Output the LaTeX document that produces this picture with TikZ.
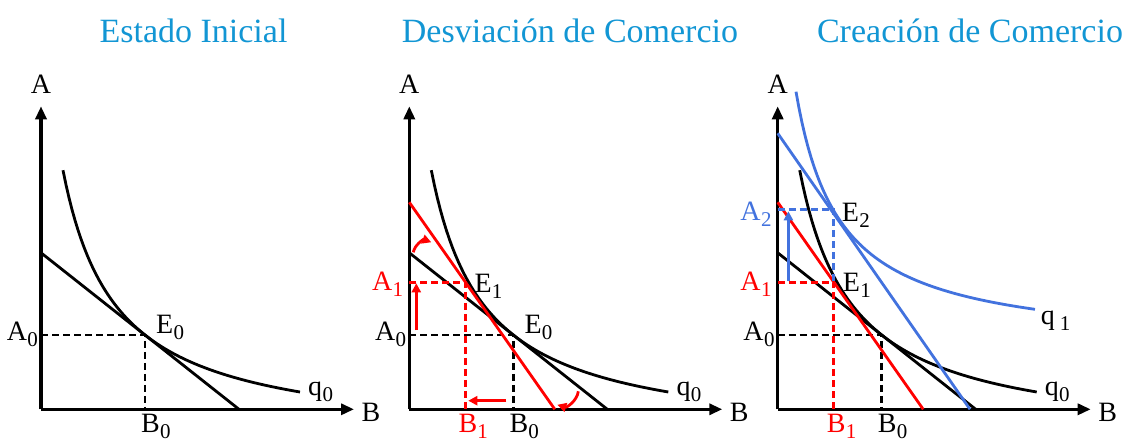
\documentclass[tikz,border=0pt]{standalone}
\usepackage{fontspec}
\setmainfont{Liberation Serif}
\usepackage{xcolor}
\usetikzlibrary{arrows.meta,positioning,calc}
\definecolor{titleblue}{RGB}{18,150,212}
\definecolor{shiftred}{RGB}{255,0,0}
\definecolor{growblue}{RGB}{66,114,222}
\newcommand{\labsub}[2]{#1\kern0.3pt\raisebox{-6.5pt}{\fontsize{21}{21}\selectfont #2}}

\begin{document}
\begin{tikzpicture}[x=1pt, y=1pt,
  font=\fontsize{28}{28}\selectfont,
  ax/.style={line width=3.2pt, -{Triangle[length=13pt,width=11pt]}},
  ln/.style={line width=2.8pt},
  dsh/.style={line width=2.8pt, dash pattern=on 7pt off 4pt},
  ar/.style={line width=2.8pt, -{Triangle[length=9pt,width=9pt]}},
  ttl/.style={font=\fontsize{34}{34}\selectfont, text=titleblue, anchor=base},
  lab/.style={inner sep=0pt}
]
\useasboundingbox (0,0) rectangle (1132,443);

% titles
\node[ttl] (t1) at (193.5,400) {Estado Inicial};
\node[ttl] (t2) at (570,400) {Desviación de Comercio};
\node[ttl] (t3) at (970,400) {Creación de Comercio};

% axes, q0, first budget line and E0 in every panel
\foreach \sx/\k in {41/1,409.3/2,777.7/3}{
  \begin{scope}[shift={(\sx,33.7)}]
    \coordinate (o\k) at (0,0);
    \coordinate (ytop\k) at (0,303);
    \coordinate (xend\k) at (313,0);
    \coordinate (bA\k) at (0,156.5);
    \coordinate (bB\k) at (198,0);
    \coordinate (E0\k) at (104,74.3);
    \draw[ax] (o\k) -- (ytop\k);
    \draw[ax] (o\k) -- (xend\k);
    \draw[ln] (bA\k) -- (bB\k);
    \draw[ln] plot[domain=22:259, samples=80] (\x,{14415/(\x+31.1)-32.4});
    \draw[dsh] (E0\k -| o\k) -- (E0\k) -- (E0\k |- o\k);
    \node[lab] (ya\k) at (0,325) {A};
    \node[lab] (xb\k) at (330,-3) {B};
    \node[lab, anchor=base east] (A0\k) at (-3,69) {\labsub{A}{0}};
    \node[lab, anchor=base west] (B0\k) at (100,-23) {\labsub{B}{0}};
    \node[lab, anchor=base west] (q0\k) at (267,14) {\labsub{q}{0}};
  \end{scope}
}

% E0 label (first two panels)
\node[lab, anchor=base west] (lE01) at ($(o1)+(115,76)$) {\labsub{E}{0}};
\node[lab, anchor=base west] (lE02) at ($(o2)+(115,76)$) {\labsub{E}{0}};

% Desviacion de Comercio
\begin{scope}[shift={(409.3,33.7)}]
  \coordinate (rA2) at (0,207);
  \coordinate (rB2) at (145.5,0);
  \coordinate (E12) at (56.5,127);
  \draw[ln, shiftred] (rA2) -- (rB2);
  \draw[dsh, shiftred] (E12 -| o2) -- (E12) -- (E12 |- o2);
  \coordinate (up0) at (7,79);
  \coordinate (up1) at (7,126);
  \draw[ar, shiftred] (up0) -- (up1);
  \coordinate (lf0) at (97,8.6);
  \coordinate (lf1) at (59,8.6);
  \draw[ar, shiftred] (lf0) -- (lf1);
  \coordinate (rt0) at (4,157);
  \coordinate (rt1) at (22,167);
  \draw[ar, shiftred] (rt0) to[bend left=50] (rt1);
  \coordinate (bt0) at (169,18);
  \coordinate (bt1) at (148,4.5);
  \draw[ar, shiftred] (bt0) to[bend left=50] (bt1);
  \node[lab, anchor=base west] (lE12) at (65,117) {\labsub{E}{1}};
  \node[lab, anchor=base east, text=shiftred] (lA12) at (-6,119) {\labsub{A}{1}};
  \node[lab, anchor=base west, text=shiftred] (lB12) at (49,-23) {\labsub{B}{1}};
\end{scope}

% Creacion de Comercio
\begin{scope}[shift={(777.7,33.7)}]
  \coordinate (rA3) at (0,207);
  \coordinate (rB3) at (145.5,0);
  \coordinate (gA3) at (0,276);
  \coordinate (gB3) at (192.3,0);
  \coordinate (E13) at (56,127);
  \coordinate (E23) at (56,200);
  \draw[ln, shiftred] (rA3) -- (rB3);
  \draw[ln, growblue] (gA3) -- (gB3);
  \draw[ln, growblue] plot[domain=18.3:257.3, samples=80] (\x,{11309/(\x+25.6)+60});
  \draw[dsh, shiftred] (E13 -| o3) -- (E13) -- (E13 |- o3);
  \draw[dsh, growblue] (E23 -| o3) -- (E23) -- (E13);
  \coordinate (bu0) at (10.7,128);
  \coordinate (bu1) at (10.7,198);
  \draw[ar, growblue] (bu0) -- (bu1);
  \node[lab, anchor=base west] (lE23) at (64,188) {\labsub{E}{2}};
  \node[lab, anchor=base west] (lE13) at (65,118) {\labsub{E}{1}};
  \node[lab, anchor=base east, text=growblue] (lA23) at (-6,189) {\labsub{A}{2}};
  \node[lab, anchor=base east, text=shiftred] (lA13) at (-6,119) {\labsub{A}{1}};
  \node[lab, anchor=base west, text=shiftred] (lB13) at (49,-23) {\labsub{B}{1}};
  \node[lab, anchor=base west] (lq13) at (263,85) {q\,\labsub{}{1}};
\end{scope}
\end{tikzpicture}
\end{document}
